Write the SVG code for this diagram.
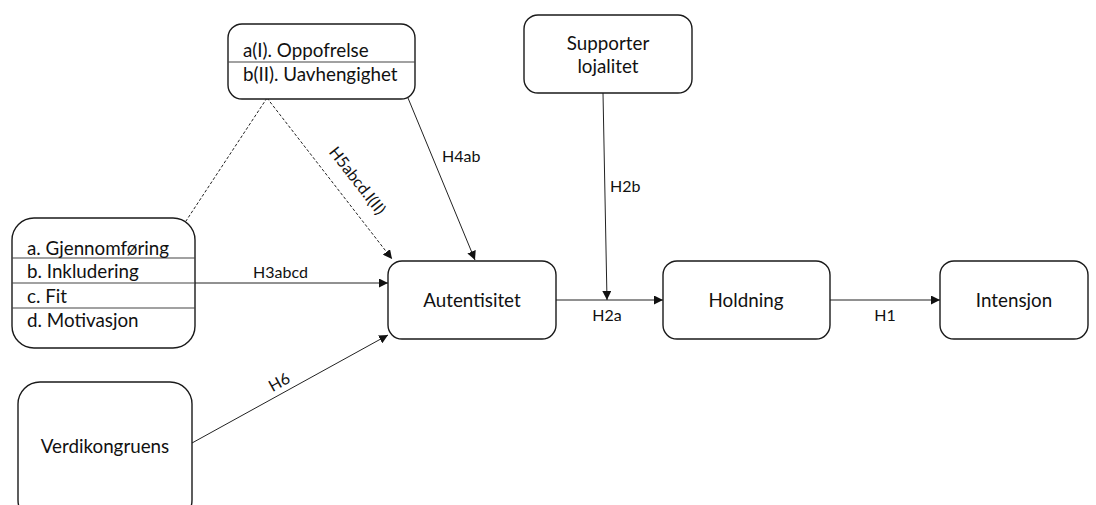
<svg xmlns="http://www.w3.org/2000/svg" width="1096" height="505" viewBox="0 0 1096 505">
  <style>
    .box { fill: #ffffff; stroke: #1a1a1a; stroke-width: 1.4; }
    .div { stroke: #444444; stroke-width: 1.2; }
    .t { font-family: Lato, "Open Sans", sans-serif; font-size: 18.8px; fill: #111111; }
    .lbl { font-family: Lato, "Open Sans", sans-serif; font-size: 16px; fill: #111111; }
    .edge { stroke: #222222; stroke-width: 1; fill: none; }
    .dash { stroke: #222222; stroke-width: 1; fill: none; stroke-dasharray: 3 2; }
  </style>
  <defs>
    <marker id="arrow" viewBox="0 0 10 10" refX="10" refY="5" markerWidth="9" markerHeight="9" markerUnits="userSpaceOnUse" orient="auto">
      <path d="M0,0 L10,5 L0,10 z" fill="#111111"/>
    </marker>
  </defs>
  <rect width="1096" height="505" fill="#ffffff"/>

  <g id="connectors">
    <!-- dotted moderator lines -->
    <line class="dash" x1="267" y1="98" x2="186" y2="221"/>
    <line class="dash" x1="267" y1="98" x2="392" y2="259" marker-end="url(#arrow)"/>
    <!-- H4ab -->
    <line class="edge" x1="408" y1="98" x2="475" y2="260" marker-end="url(#arrow)"/>
    <!-- H3abcd -->
    <line class="edge" x1="195" y1="283" x2="388" y2="283" marker-end="url(#arrow)"/>
    <!-- H6 -->
    <line class="edge" x1="192" y1="443" x2="388" y2="335" marker-end="url(#arrow)"/>
    <!-- H2a -->
    <line class="edge" x1="556" y1="300" x2="663" y2="300" marker-end="url(#arrow)"/>
    <!-- H2b -->
    <line class="edge" x1="603" y1="93" x2="607" y2="300" marker-end="url(#arrow)"/>
    <!-- H1 -->
    <line class="edge" x1="830" y1="300" x2="940" y2="300" marker-end="url(#arrow)"/>

    <text class="lbl" x="253" y="278">H3abcd</text>
    <text class="lbl" x="442" y="162">H4ab</text>
    <text class="lbl" x="610" y="192">H2b</text>
    <text class="lbl" x="607" y="321" text-anchor="middle">H2a</text>
    <text class="lbl" x="885" y="321" text-anchor="middle">H1</text>
    <text class="lbl" transform="translate(353,184) rotate(52)" text-anchor="middle">H5abcd.I(II)</text>
    <text class="lbl" transform="translate(282,387) rotate(-29)" text-anchor="middle">H6</text>
  </g>

  <g id="node-oppofrelse">
    <rect class="box" x="228" y="24" width="187" height="75" rx="14"/>
    <line class="div" x1="228" y1="62" x2="415" y2="62"/>
    <text class="t" x="243" y="57">a(I). Oppofrelse</text>
    <text class="t" x="243" y="81">b(II). Uavhengighet</text>
  </g>

  <g id="node-gjennomforing">
    <rect class="box" x="12" y="218" width="183" height="130" rx="22"/>
    <line class="div" x1="12" y1="258" x2="195" y2="258"/>
    <line class="div" x1="12" y1="283" x2="195" y2="283"/>
    <line class="div" x1="12" y1="308" x2="195" y2="308"/>
    <text class="t" x="27" y="255">a. Gjennomføring</text>
    <text class="t" x="27" y="278">b. Inkludering</text>
    <text class="t" x="27" y="303">c. Fit</text>
    <text class="t" x="27" y="327">d. Motivasjon</text>
  </g>

  <g id="node-verdikongruens">
    <rect class="box" x="18" y="382" width="174" height="140" rx="22"/>
    <text class="t" x="105" y="453" text-anchor="middle">Verdikongruens</text>
  </g>

  <g id="node-supporter">
    <rect class="box" x="524" y="15" width="168" height="78" rx="14"/>
    <text class="t" x="608" y="50" text-anchor="middle">Supporter</text>
    <text class="t" x="608" y="73" text-anchor="middle">lojalitet</text>
  </g>

  <g id="node-autentisitet">
    <rect class="box" x="388" y="261" width="168" height="78" rx="14"/>
    <text class="t" x="472" y="307" text-anchor="middle">Autentisitet</text>
  </g>

  <g id="node-holdning">
    <rect class="box" x="663" y="261" width="167" height="78" rx="14"/>
    <text class="t" x="746" y="307" text-anchor="middle">Holdning</text>
  </g>

  <g id="node-intensjon">
    <rect class="box" x="940" y="261" width="148" height="78" rx="14"/>
    <text class="t" x="1014" y="307" text-anchor="middle">Intensjon</text>
  </g>
</svg>
